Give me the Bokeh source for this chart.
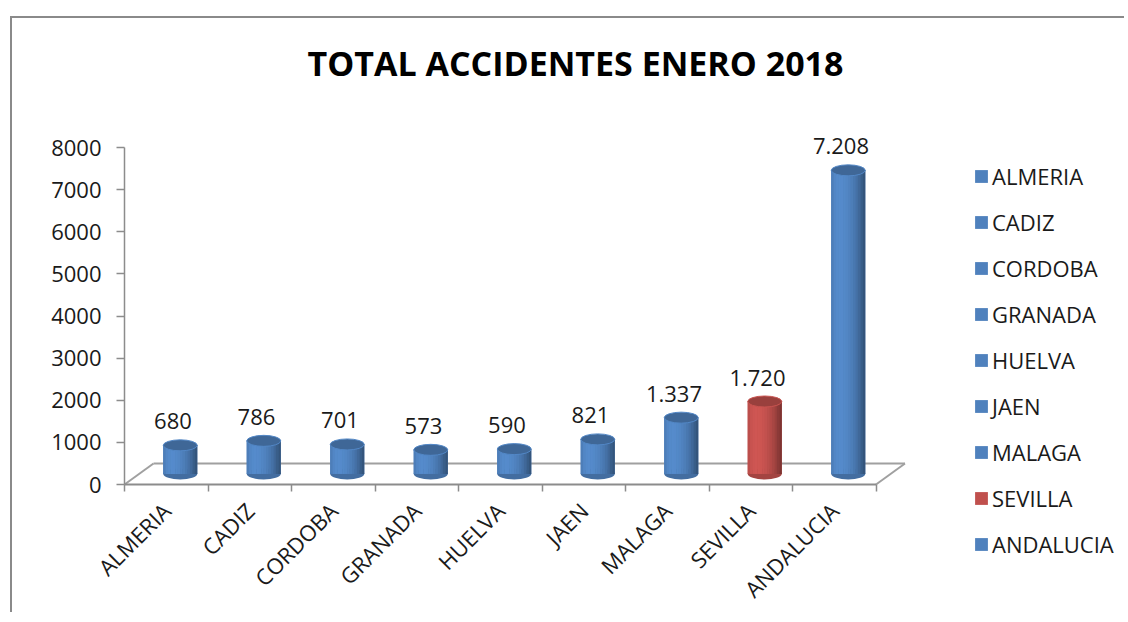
import numpy as np
from bokeh.plotting import figure
from bokeh.models import (ColumnDataSource, FixedTicker, Range1d, Legend,
                          LegendItem, Label, LinearAxis)
from bokeh.core.properties import value
from bokeh.embed import file_html
from bokeh.resources import INLINE

# ---------------- data ----------------
categories = ["ALMERIA", "CADIZ", "CORDOBA", "GRANADA", "HUELVA",
              "JAEN", "MALAGA", "SEVILLA", "ANDALUCIA"]
accidents = [680, 786, 701, 573, 590, 821, 1337, 1720, 7208]
y_ticks = [0, 1000, 2000, 3000, 4000, 5000, 6000, 7000, 8000]
title_text = "TOTAL ACCIDENTES ENERO 2018"
highlight = "SEVILLA"

# ---------------- geometry / style ----------------
FONT = "Open Sans"
W, H = 1114, 596
AXIS_PX = 112                 # canvas px of the value axis (from left)
ZERO_PX = 466                 # canvas px of the value 0 (from top)
PX_CAT = 83.5                 # pixels per category
PX_UNIT = 337.0 / 8000.0      # pixels per accident
X0 = -0.5 - AXIS_PX / PX_CAT
X1 = X0 + W / PX_CAT
Y0 = -(H - ZERO_PX) / PX_UNIT
Y1 = ZERO_PX / PX_UNIT

BLUE = (79, 129, 189)
RED = (192, 80, 77)
GREY = "#A0A0A0"
AXIS_GREY = "#8c8c8c"


def shade(rgb, f):
    return "#%02x%02x%02x" % tuple(int(max(0, min(255, c * f))) for c in rgb)


n = len(categories)
idx = np.arange(n)
base_rgb = [RED if c == highlight else BLUE for c in categories]

BW = 34 / PX_CAT                 # bar width (data)
DX = 14 / PX_CAT                 # 3d depth shift in x
BASE = 250.0                     # 3d depth shift in y
DEPTH_X = 29 / PX_CAT
DEPTH_Y = 21 / PX_UNIT

p = figure(width=W, height=H, x_range=Range1d(X0, X1), y_range=Range1d(Y0, Y1),
           output_backend="svg", toolbar_location=None, title=None,
           x_axis_type=None, y_axis_type=None,
           min_border_left=0, min_border_bottom=0,
           min_border_top=0, min_border_right=0)
p.outline_line_color = None
p.background_fill_color = "white"
p.border_fill_color = "white"
p.styles = {"border-left": "2px solid #8a8a8a", "border-top": "2px solid #8a8a8a",
            "margin-left": "10px", "margin-top": "16px"}

# ---------------- axes ----------------
yaxis = LinearAxis(ticker=FixedTicker(ticks=y_ticks), bounds=(y_ticks[0], y_ticks[-1]),
                   fixed_location=-0.5)
yaxis.axis_line_color = AXIS_GREY
yaxis.axis_line_width = 1.5
yaxis.major_tick_line_color = AXIS_GREY
yaxis.major_tick_line_width = 1.5
yaxis.major_tick_out = 8
yaxis.major_tick_in = 0
yaxis.minor_tick_line_color = None
yaxis.major_label_standoff = 15
yaxis.major_label_text_font = FONT
yaxis.major_label_text_font_size = "22px"
yaxis.major_label_text_color = "#1a1a1a"
p.add_layout(yaxis, "left")

xaxis = LinearAxis(ticker=FixedTicker(ticks=list(idx),
                                      minor_ticks=[i - 0.5 for i in range(n + 1)]),
                   fixed_location=0)
xaxis.major_label_overrides = {int(i): c for i, c in enumerate(categories)}
xaxis.axis_line_color = None
xaxis.major_tick_line_color = None
xaxis.major_tick_out = 0
xaxis.major_tick_in = 0
xaxis.minor_tick_line_color = AXIS_GREY
xaxis.minor_tick_line_width = 1.5
xaxis.minor_tick_out = 7
xaxis.minor_tick_in = 0
xaxis.major_label_orientation = np.pi / 4
xaxis.major_label_standoff = 15
xaxis.major_label_text_font = FONT
xaxis.major_label_text_font_size = "22px"
xaxis.major_label_text_color = "#1a1a1a"
p.add_layout(xaxis, "below")

# ---------------- 3d floor ----------------
fl, fr = -0.5, n - 0.5
p.multi_line(xs=[[fl + DEPTH_X, fr + DEPTH_X], [fl, fl + DEPTH_X], [fr, fr + DEPTH_X]],
             ys=[[DEPTH_Y, DEPTH_Y], [0, DEPTH_Y], [0, DEPTH_Y]],
             line_color=GREY, line_width=2)
p.line(x=[fl, fr], y=[0, 0], line_color=AXIS_GREY, line_width=2)

# ---------------- cylinders ----------------
xs = idx + DX
tops = np.array(accidents, dtype=float) + BASE
src = ColumnDataSource(dict(x=xs, top=tops, name=categories,
                            color=[shade(c, 1.0) for c in base_rgb],
                            bottom_color=[shade(c, 0.85) for c in base_rgb],
                            cap_color=[shade(c, 0.80) for c in base_rgb],
                            cap_line=[shade(c, 1.05) for c in base_rgb]))

proxy = p.vbar(x="x", width=BW, bottom=BASE, top="top", source=src,
               fill_color="color", line_color=None)
p.ellipse(x="x", y=BASE, width=BW, height=11, height_units="screen", source=src,
          fill_color="bottom_color", line_color=None)

NS = 14
for k in range(NS):
    t = (k + 0.5) / NS
    theta = np.arcsin(2 * t - 1)
    f = 0.66 + 0.42 * max(0.0, np.cos(theta + 0.5))
    p.vbar(x=xs - BW / 2 + (k + 0.5) * BW / NS, width=BW / NS * 1.08,
           bottom=BASE, top=tops,
           fill_color=[shade(c, f) for c in base_rgb], line_color=None)

p.ellipse(x="x", y="top", width=BW, height=11, height_units="screen", source=src,
          fill_color="cap_color", line_color="cap_line", line_width=1)

# ---------------- data labels ----------------
labels = [f"{v:,}".replace(",", ".") for v in accidents]
p.text(x=idx + 0.08, y=tops + 24 / PX_UNIT, text=labels,
       text_align="center", text_baseline="middle",
       text_font=value(FONT), text_font_size="22px", text_color="#1a1a1a")

# ---------------- title ----------------
p.add_layout(Label(x=X0 + 563 / PX_CAT, y=(ZERO_PX - 44) / PX_UNIT,
                   text=title_text, text_align="center", text_baseline="middle",
                   text_font=FONT, text_font_style="bold", text_font_size="34px",
                   text_color="#000000"))

# ---------------- legend ----------------
legend = Legend(items=[LegendItem(label=c, renderers=[proxy], index=i)
                       for i, c in enumerate(categories)],
                location=(849 + AXIS_PX, 55), orientation="vertical")
legend.padding = 0
legend.margin = 0
legend.border_line_color = None
legend.background_fill_alpha = 0
legend.glyph_width = 16
legend.glyph_height = 16
legend.label_standoff = 3
legend.label_height = 30
legend.spacing = 16
legend.label_text_font = FONT
legend.label_text_font_size = "22px"
legend.label_text_color = "#1a1a1a"
p.add_layout(legend)

open("out.html", "w").write(file_html(p, INLINE))
